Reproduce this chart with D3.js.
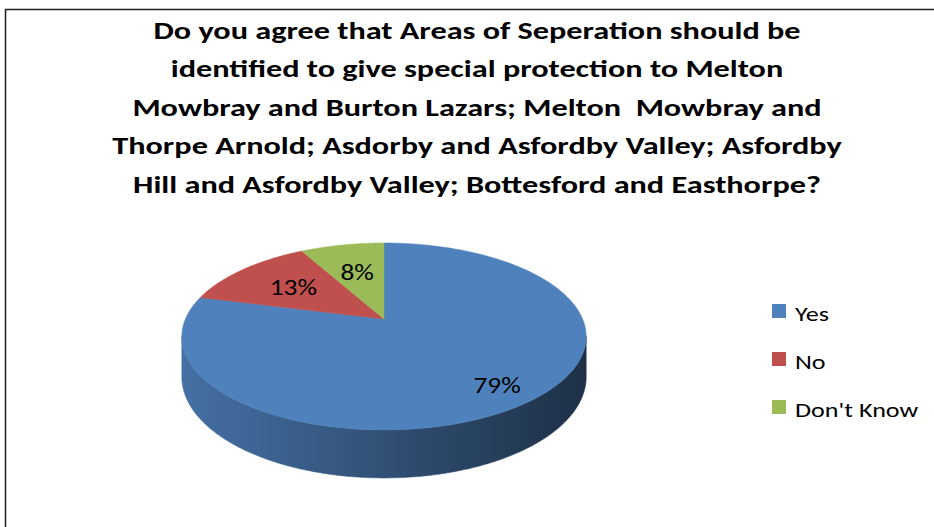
<!DOCTYPE html>
<html>
<head>
<meta charset="utf-8">
<script src="https://cdn.jsdelivr.net/npm/d3@7"></script>
<style>
  body { margin: 0; background: #fff; }
  svg { display: block; }
  text { white-space: pre; }
</style>
</head>
<body>
<svg id="chart" width="934" height="527"></svg>
<script>
// Survey answers
const categories = ["Yes", "No", "Don't Know"];
const values = [79, 13, 8];
const valueLabels = ["79%", "13%", "8%"];
const sliceColors = ["#4f81bd", "#c0504d", "#9bbb59"];
const titleLines = [
  "Do you agree that Areas of Seperation should be",
  "identified to give special protection to Melton",
  "Mowbray and Burton Lazars; Melton  Mowbray and",
  "Thorpe Arnold; Asdorby and Asfordby Valley; Asfordby",
  "Hill and Asfordby Valley; Bottesford and Easthorpe?"
];

const W = 934, H = 527;
const FONT = "Carlito, Calibri, Lato, 'Noto Sans', sans-serif";
// the chart's type is set wide: glyphs are stretched horizontally
const TITLE_STRETCH = 1.29, LABEL_STRETCH = 1.19, LEGEND_STRETCH = 1.275;
const svg = d3.select("#chart");

// places a text element in a group stretched horizontally about its anchor x
function wideText(parent, x, y, stretch) {
  return parent.append("g")
    .attr("transform", `translate(${x},0) scale(${stretch},1)`)
    .append("text").attr("x", 0).attr("y", y)
    .attr("font-family", FONT).attr("fill", "#000");
}

// chart area frame
svg.append("rect")
  .attr("x", 5.5).attr("y", 9.5)
  .attr("width", W + 20).attr("height", H + 20)
  .attr("fill", "#fff").attr("stroke", "#1e1e1e").attr("stroke-width", 1.5);

// title
titleLines.forEach((line, i) => {
  wideText(svg, 477, 39 + i * 38.5, TITLE_STRETCH)
    .attr("text-anchor", "middle")
    .attr("font-weight", "bold")
    .attr("font-size", 25)
    .text(line);
});

// 3D pie geometry: tilted disc seen in perspective
const CX = 384, CY = 319;      // projected centre of the top face
const RX = 198.6, RY = 90.2;   // radii of the tilted disc
const K = 0.187;               // perspective strength (near edge is larger)
const DEPTH = 39;              // thickness of the disc

function project(a, r, z) {
  const u = r * Math.sin(a), v = -r * Math.cos(a);
  const s = 1 / (1 - K * v);
  return [CX + RX * u * s, CY + (RY * v + DEPTH * z) * s];
}
function rim(a0, a1, z) {
  const n = Math.max(2, Math.ceil((a1 - a0) / 0.01));
  return d3.range(n + 1).map(i => project(a0 + (a1 - a0) * i / n, 1, z));
}

const arcs = d3.pie().sort(null).value(d => d)(values);
const line = d3.line();

// angles where the rim reaches its left/right silhouette
const aRight = Math.acos(-K), aLeft = 2 * Math.PI - aRight;
const xLeft = project(aLeft, 1, 0)[0], xRight = project(aRight, 1, 0)[0];

const defs = svg.append("defs");
function shade(c, f) {
  const col = d3.rgb(c);
  return d3.rgb(col.r * f, col.g * f, col.b * f).formatHex();
}
arcs.forEach((d, i) => {
  const g = defs.append("linearGradient")
    .attr("id", "side" + i)
    .attr("gradientUnits", "userSpaceOnUse")
    .attr("x1", xLeft).attr("x2", xRight).attr("y1", 0).attr("y2", 0);
  g.append("stop").attr("offset", "0%").attr("stop-color", shade(sliceColors[i], 0.87));
  g.append("stop").attr("offset", "100%").attr("stop-color", shade(sliceColors[i], 0.37));
});

const pieG = svg.append("g");

// outer wall of each slice, only the part that faces the viewer
arcs.forEach((d, i) => {
  const lo = Math.max(d.startAngle, aRight), hi = Math.min(d.endAngle, aLeft);
  if (lo >= hi) return;
  const pts = rim(lo, hi, 0).concat(rim(lo, hi, 1).reverse());
  pieG.append("path")
    .attr("d", line(pts) + "Z")
    .attr("fill", `url(#side${i})`)
    .attr("stroke", `url(#side${i})`).attr("stroke-width", 0.6);
});

// top faces
arcs.forEach((d, i) => {
  const pts = [project(0, 0, 0)].concat(rim(d.startAngle, d.endAngle, 0));
  pieG.append("path")
    .attr("d", line(pts) + "Z")
    .attr("fill", sliceColors[i])
    .attr("stroke", sliceColors[i]).attr("stroke-width", 0.5);
});

// value labels; bigger slices carry their label further toward the rim
const total = d3.sum(values);
arcs.forEach((d, i) => {
  const mid = (d.startAngle + d.endAngle) / 2;
  const r = 0.58 + 0.3 * d.value / total;
  const [x, y] = project(mid, r, 0);
  wideText(svg, x, y, LABEL_STRETCH)
    .attr("dy", "0.36em")
    .attr("text-anchor", "middle")
    .attr("font-size", 23)
    .text(valueLabels[i]);
});

// legend
const rowY = d3.scalePoint().domain(categories).range([311, 407]);
categories.forEach((c, i) => {
  const y = rowY(c);
  svg.append("rect")
    .attr("x", 772).attr("y", y - 7)
    .attr("width", 14).attr("height", 14)
    .attr("fill", sliceColors[i]);
  wideText(svg, 795, y + 10, LEGEND_STRETCH)
    .attr("font-size", 20.5)
    .text(c);
});
</script>
</body>
</html>
